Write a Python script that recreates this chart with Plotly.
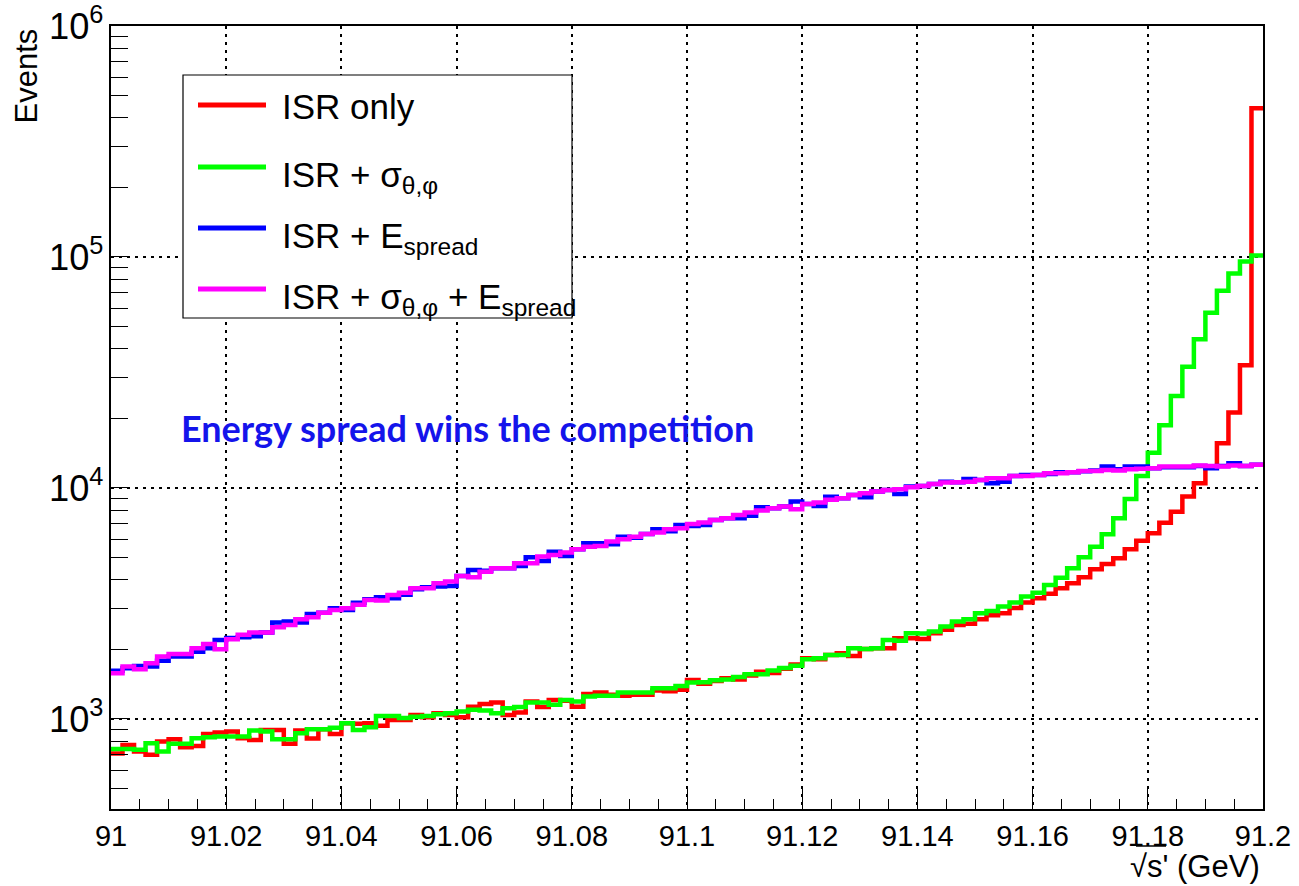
import numpy as np
import plotly.graph_objects as go

# 100 bins of sqrt(s') between 91.0 and 91.2 GeV
x_lo, x_hi, n_bins = 91.0, 91.2, 100

isr_only = [
    709, 771, 722, 699, 798, 817, 754, 763, 861, 873,
    883, 825, 811, 896, 896, 780, 891, 822, 902, 861,
    957, 952, 957, 934, 990, 990, 1041, 1017, 1059, 1041,
    1017, 1130, 1161, 1178, 1041, 1065, 1189, 1125, 1208, 1200,
    1130, 1283, 1301, 1272, 1259, 1272, 1272, 1328, 1317, 1337,
    1475, 1420, 1460, 1500, 1480, 1540, 1600, 1580, 1650, 1720,
    1829, 1811, 1891, 1925, 1873, 2010, 2023, 2023, 2235, 2235,
    2220, 2350, 2430, 2553, 2580, 2704, 2808, 2870, 3020, 3190,
    3330, 3480, 3680, 3870, 4110, 4450, 4690, 4960, 5430, 5910,
    6360, 7070, 7890, 9180, 10470, 12370, 15600, 21200, 34000, 440000,
]

isr_angle = [
    740, 740, 735, 785, 722, 780, 780, 825, 833, 840,
    840, 840, 891, 883, 817, 817, 866, 902, 902, 916,
    957, 896, 920, 1030, 1030, 1010, 1023, 1030, 1048, 1059,
    1076, 1095, 1088, 1059, 1113, 1125, 1178, 1178, 1151, 1208,
    1189, 1250, 1259, 1259, 1301, 1301, 1301, 1359, 1359, 1390,
    1437, 1440, 1470, 1480, 1520, 1560, 1560, 1620, 1660, 1700,
    1811, 1829, 1891, 1891, 2023, 2010, 2023, 2198, 2180, 2350,
    2345, 2388, 2512, 2638, 2704, 2867, 2935, 3065, 3190, 3385,
    3520, 3800, 4090, 4490, 5010, 5570, 6300, 7390, 8960, 11270,
    14200, 18700, 25000, 33500, 44000, 57400, 71400, 84900, 95500, 101600,
]

isr_espread = [
    1617, 1657, 1694, 1686, 1786, 1862, 1862, 1954, 2023, 2198,
    2240, 2260, 2280, 2366, 2612, 2640, 2612, 2849, 2885, 3017,
    2964, 3180, 3300, 3360, 3330, 3450, 3640, 3720, 3740, 3760,
    4159, 4415, 4380, 4490, 4490, 4590, 5010, 4830, 5300, 5080,
    5430, 5760, 5760, 5700, 6150, 6080, 6320, 6630, 6500, 6920,
    6850, 6920, 7270, 7390, 7390, 7570, 8240, 8170, 8310, 8740,
    8530, 8360, 9160, 9020, 9330, 9120, 9640, 9800, 9420, 10140,
    10200, 10410, 10650, 10590, 10920, 10830, 10470, 10650, 11270, 11380,
    11380, 11500, 11700, 11700, 11800, 11900, 12370, 12040, 12370, 12370,
    12160, 12300, 12300, 12300, 12450, 12160, 12450, 12800, 12450, 12590,
]

isr_angle_espread = [
    1578, 1686, 1641, 1742, 1862, 1911, 1911, 2023, 2113, 2003,
    2212, 2312, 2366, 2366, 2497, 2553, 2704, 2757, 2885, 2964,
    3017, 3121, 3276, 3260, 3443, 3520, 3680, 3680, 3870, 3933,
    4159, 4105, 4342, 4490, 4490, 4720, 4720, 5047, 5130, 5250,
    5430, 5570, 5610, 5860, 6000, 6150, 6320, 6410, 6630, 6690,
    6980, 7080, 7270, 7390, 7640, 7820, 7980, 8170, 8310, 8090,
    8530, 8650, 8880, 9020, 9330, 9480, 9640, 9800, 9870, 10060,
    10200, 10410, 10550, 10590, 10650, 10830, 11020, 11020, 11270, 11270,
    11380, 11580, 11580, 11700, 11850, 11850, 11970, 11900, 12040, 12100,
    12160, 12370, 12370, 12370, 12500, 12450, 12370, 12500, 12450, 12590,
]

x_tick_vals = [91.0, 91.02, 91.04, 91.06, 91.08, 91.1, 91.12, 91.14, 91.16, 91.18, 91.2]
x_tick_text = ["91", "91.02", "91.04", "91.06", "91.08", "91.1",
               "91.12", "91.14", "91.16", "91.18", "91.2"]

series = [
    ("ISR only", isr_only, "#ff0000"),
    ("ISR + σ<sub>θ,φ</sub>", isr_angle, "#00ff00"),
    ("ISR + E<sub>spread</sub>", isr_espread, "#0000ff"),
    ("ISR + σ<sub>θ,φ</sub> + E<sub>spread</sub>", isr_angle_espread, "#ff00ff"),
]

edges = np.linspace(x_lo, x_hi, n_bins + 1)

W, H = 1299, 886
L, R, T, B = 111, 36, 26, 77
plot_w, plot_h = W - L - R, H - T - B


def px_x(px):
    return (px - L) / plot_w


def px_y(py):
    return (H - B - py) / plot_h


fig = go.Figure()
for name, vals, color in series:
    fig.add_trace(go.Scatter(
        x=edges, y=list(vals) + [vals[-1]],
        mode="lines", line=dict(color=color, width=4.5, shape="hv"),
        name=name, showlegend=False, hoverinfo="skip",
    ))

font_family = "Liberation Sans, Arial, Helvetica, sans-serif"

fig.update_layout(
    width=W, height=H,
    margin=dict(l=L, r=R, t=T, b=B, autoexpand=False),
    plot_bgcolor="white", paper_bgcolor="white",
    font=dict(family=font_family, size=29, color="black"),
    showlegend=False,
)

grid_dash = "3px,5px"

fig.update_xaxes(
    range=[x_lo, x_hi], automargin=False,
    tickmode="array", tickvals=x_tick_vals, ticktext=x_tick_text,
    ticks="inside", ticklen=20, tickwidth=1, tickcolor="black",
    showline=True, linecolor="black", linewidth=1.5, mirror=True,
    showgrid=True, gridcolor="black", griddash=grid_dash, gridwidth=1.5,
    minor=dict(ticks="inside", ticklen=10, tickcolor="black", dtick=0.005, showgrid=False),
    zeroline=False, tickfont=dict(size=29),
)

fig.update_yaxes(
    type="log", range=[2.61, 6.0], automargin=False,
    dtick=1, exponentformat="power",
    ticks="inside", ticklen=19, tickwidth=1, tickcolor="black",
    showline=True, linecolor="black", linewidth=1.5, mirror=True,
    showgrid=True, gridcolor="black", griddash=grid_dash, gridwidth=1.5,
    minor=dict(ticks="inside", ticklen=17, tickcolor="black", dtick="D1", showgrid=False),
    zeroline=False, tickfont=dict(size=29),
)

shapes = []
annotations = []

# legend box
shapes.append(dict(type="rect", xref="paper", yref="paper",
                   x0=px_x(183), x1=px_x(572), y0=px_y(318), y1=px_y(75),
                   line=dict(color="black", width=1.2), fillcolor="white", layer="above"))
legend_rows = [105, 167, 228, 289]
for (name, _, color), ry in zip(series, legend_rows):
    shapes.append(dict(type="line", xref="paper", yref="paper",
                       x0=px_x(198), x1=px_x(266), y0=px_y(ry), y1=px_y(ry),
                       line=dict(color=color, width=5), layer="above"))
    annotations.append(dict(xref="paper", yref="paper", x=px_x(280),
                            y=px_y(ry + 2 + (8 if "<sub>" in name else 0)),
                            xanchor="left", yanchor="middle", text=name, showarrow=False,
                            font=dict(size=35, family=font_family, color="black")))

# overline of the square root in the x title
shapes.append(dict(type="line", xref="paper", yref="paper",
                   x0=px_x(1136), x1=px_x(1166), y0=px_y(846), y1=px_y(846),
                   line=dict(color="black", width=1.5)))

annotations.append(dict(xref="paper", yref="paper", x=px_x(1262), y=px_y(866),
                        xanchor="right", yanchor="middle", text="√s' (GeV)", showarrow=False,
                        font=dict(size=31, family=font_family)))
annotations.append(dict(xref="paper", yref="paper", x=px_x(26), y=px_y(27),
                        xanchor="center", yanchor="top", text="Events", textangle=-90,
                        showarrow=False, font=dict(size=31, family=font_family)))
annotations.append(dict(xref="paper", yref="paper", x=px_x(467), y=px_y(428),
                        xanchor="center", yanchor="middle",
                        text="Energy spread wins the competition", showarrow=False,
                        font=dict(size=36, family="Lato, Open Sans, sans-serif",
                                  color="rgb(20,20,235)", weight="bold")))

fig.update_layout(shapes=shapes, annotations=annotations)

fig.write_html("out.html")
